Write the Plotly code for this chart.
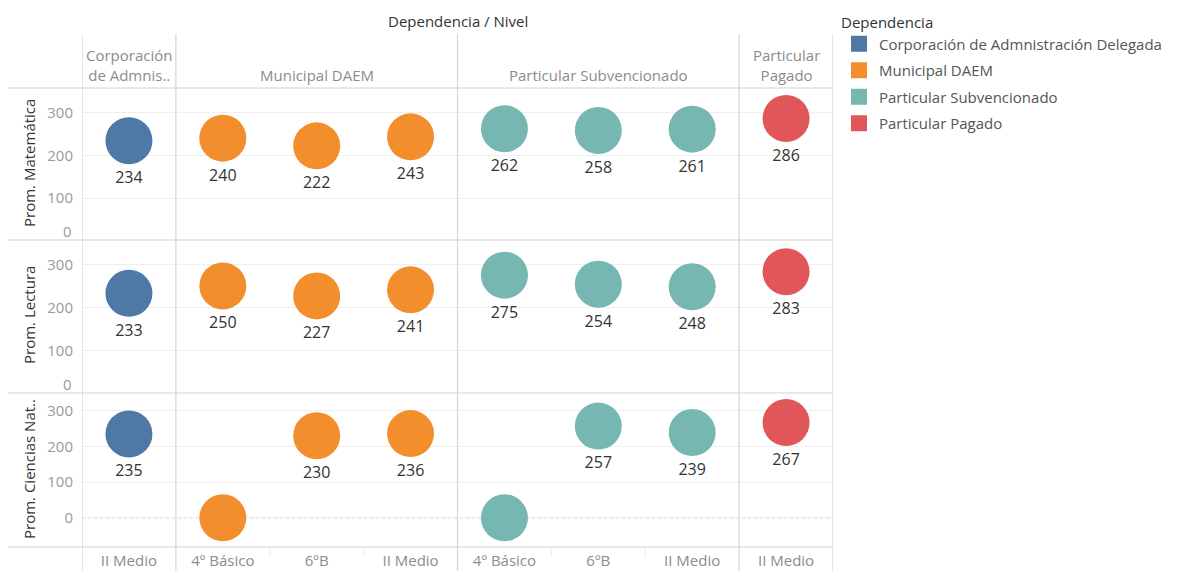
import plotly.graph_objects as go
from plotly.subplots import make_subplots

# ---------------- data ----------------
dependencias = ["Corporación de Admnistración Delegada", "Municipal DAEM",
                "Particular Subvencionado", "Particular Pagado"]
dep_headers = ["Corporación<br>de Admnis..", "Municipal DAEM",
               "Particular Subvencionado", "Particular<br>Pagado"]
col_dep = [0, 1, 1, 1, 2, 2, 2, 3]
niveles = ["II Medio", "4º Básico", "6ºB", "II Medio",
           "4º Básico", "6ºB", "II Medio", "II Medio"]
prom_matematica = [234, 240, 222, 243, 262, 258, 261, 286]
prom_lectura = [233, 250, 227, 241, 275, 254, 248, 283]
prom_ciencias = [235, 0, 230, 236, 0, 257, 239, 267]
ciencias_missing = [False, True, False, False, True, False, False, False]
row_titles = ["Prom. Matemática", "Prom. Lectura", "Prom. Ciencias Nat.."]
colors = ["#4E79A7", "#F28E2B", "#76B7B2", "#E15759"]
y_ticks = [0, 100, 200, 300]

FONT = "'Open Sans', 'Noto Sans', sans-serif"

fig = make_subplots(rows=3, cols=1, shared_xaxes=True, vertical_spacing=0)

rows_data = [
    (prom_matematica, [str(v) for v in prom_matematica]),
    (prom_lectura, [str(v) for v in prom_lectura]),
    (prom_ciencias, ["" if m else str(v) for v, m in zip(prom_ciencias, ciencias_missing)]),
]

for r, (vals, labels) in enumerate(rows_data, start=1):
    for d, dep in enumerate(dependencias):
        idx = [i for i, c in enumerate(col_dep) if c == d]
        fig.add_trace(go.Scatter(
            x=idx, y=[vals[i] for i in idx], text=[labels[i] for i in idx],
            mode="markers+text", textposition="bottom center",
            textfont=dict(size=16, color="#333333", family=FONT),
            marker=dict(size=47, color=colors[d], line=dict(width=0)),
            showlegend=False, hoverinfo="skip", cliponaxis=False,
        ), row=r, col=1)

# legend entries
for d, dep in enumerate(dependencias):
    fig.add_trace(go.Scatter(
        x=[None], y=[None], mode="markers", name=dep, legendgroup=f"g{d}",
        marker=dict(size=18, symbol="square", color=colors[d]),
        showlegend=True,
    ), row=1, col=1)

# page body has an 8px margin: all screen coordinates below are window pixels
OFF = 8
W, H = 1182 - OFF, 571 - OFF
L, R, T, B = 82 - OFF, W - (833 - OFF), 88 - OFF, H - (547 - OFF)
pw, ph = W - L - R, H - T - B

def px_x(sx):
    return (sx - OFF - L) / pw

def px_y(sy):
    return (H - B - (sy - OFF)) / ph

ranges = [[0, 357], [0, 354], [-82, 347]]
tick_font = dict(size=15, color="#9a9a9a", family=FONT)
for r in range(1, 4):
    # rows whose range starts at 0 show the "0" label lifted off the border (annotation below)
    tv = y_ticks if ranges[r - 1][0] < 0 else [t for t in y_ticks if t != 0]
    fig.update_yaxes(range=ranges[r - 1], tickvals=tv, ticktext=[str(t) for t in tv],
                     showgrid=True, gridcolor="#efefef", gridwidth=1, zeroline=False,
                     showline=False, ticks="", automargin=False, ticklabelstandoff=8,
                     tickfont=tick_font, row=r, col=1)
    fig.update_xaxes(range=[-0.5, 7.5], showgrid=False, zeroline=False, showline=False,
                     ticks="", automargin=False, row=r, col=1)

fig.update_xaxes(tickvals=list(range(len(niveles))), ticktext=niveles, ticklabelstandoff=3,
                 tickfont=dict(size=15, color="#8c8c8c", family=FONT), row=3, col=1)

shapes = []
line_c = "#d4d4d4"
# horizontal separators
for sy in [88, 240, 393, 547]:
    shapes.append(dict(type="line", xref="paper", yref="paper",
                       x0=px_x(5), x1=1, y0=px_y(sy), y1=px_y(sy),
                       line=dict(color=line_c, width=1.2)))
# vertical separators at group boundaries
for xv in [-0.5, 0.5, 3.5, 6.5, 7.5]:
    shapes.append(dict(type="line", xref="x", yref="paper",
                       x0=xv, x1=xv, y0=px_y(575), y1=px_y(34),
                       line=dict(color=line_c, width=1.2)))
# faint separators in bottom header
for xv in [1.5, 2.5, 4.5, 5.5]:
    shapes.append(dict(type="line", xref="x", yref="paper",
                       x0=xv, x1=xv, y0=px_y(556), y1=px_y(547),
                       line=dict(color="#ececec", width=1)))
# dotted zero line in ciencias row
shapes.append(dict(type="line", xref="paper", yref="y3", x0=0, x1=1, y0=0, y1=0,
                   line=dict(color="#ababab", width=1, dash="dot"), layer="below"))

annotations = []
annotations.append(dict(text="Dependencia / Nivel", xref="paper", yref="paper",
                        x=px_x(458), y=px_y(21), xanchor="center", yanchor="middle",
                        showarrow=False,
                        font=dict(size=15, color="#333333", family=FONT)))
group_centers = [0, 2, 5, 7]
for d, hdr in enumerate(dep_headers):
    annotations.append(dict(text=hdr, xref="x", yref="paper", x=group_centers[d],
                            y=px_y(88), xanchor="center", yanchor="bottom", yshift=1,
                            showarrow=False, align="center",
                            font=dict(size=15, color="#8c8c8c", family=FONT)))
for r, title in enumerate(row_titles):
    yc = [163, 315, 469][r]
    annotations.append(dict(text=title, xref="paper", yref="paper", x=px_x(29), y=px_y(yc),
                            xanchor="center", yanchor="middle",
                            textangle=-90, showarrow=False,
                            font=dict(size=15, color="#333333", family=FONT)))
# lifted "0" labels for rows starting at zero
for r in range(1, 4):
    if ranges[r - 1][0] == 0:
        annotations.append(dict(text="0", xref="paper", yref=f"y{r}" if r > 1 else "y",
                                x=0, y=0, xanchor="right", yanchor="middle",
                                xshift=-8, yshift=10, showarrow=False, font=tick_font))

fig.update_layout(
    width=W, height=H,
    margin=dict(l=L, r=R, t=T, b=B, autoexpand=False),
    paper_bgcolor="white", plot_bgcolor="white",
    font=dict(family=FONT, size=15, color="#333333"),
    shapes=shapes, annotations=annotations,
    legend=dict(x=px_x(839), y=px_y(8), xanchor="left", yanchor="top",
                title=dict(text="Dependencia", font=dict(size=15, color="#333333")),
                font=dict(size=15, color="#555555"), itemsizing="trace",
                tracegroupgap=4, bgcolor="rgba(0,0,0,0)"),
)

fig.write_html("out.html")
